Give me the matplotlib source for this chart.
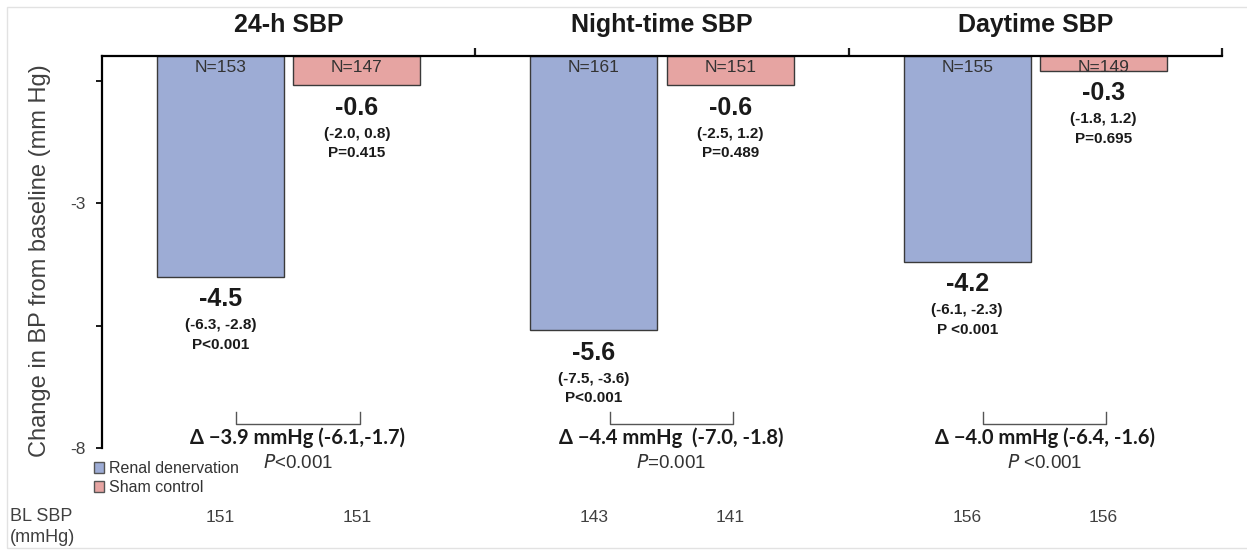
import numpy as np
import matplotlib.pyplot as plt
from matplotlib.patches import Patch, Rectangle
from matplotlib import transforms

plt.rcParams['font.family'] = ['Liberation Sans', 'DejaVu Sans']

# change in SBP from baseline, per measurement window
groups = ["24-h SBP", "Night-time SBP", "Daytime SBP"]
rdn_change = [-4.5, -5.6, -4.2]
sham_change = [-0.6, -0.6, -0.3]
rdn_n = [153, 161, 155]
sham_n = [147, 151, 149]
rdn_ci = ["(-6.3, -2.8)", "(-7.5, -3.6)", "(-6.1, -2.3)"]
sham_ci = ["(-2.0, 0.8)", "(-2.5, 1.2)", "(-1.8, 1.2)"]
rdn_p = ["P<0.001", "P<0.001", "P <0.001"]
sham_p = ["P=0.415", "P=0.489", "P=0.695"]
diff_text = ["\u0394 \u22123.9 mmHg (-6.1,-1.7)",
             "\u0394 \u22124.4 mmHg  (-7.0, -1.8)",
             "\u0394 \u22124.0 mmHg (-6.4, -1.6)"]
diff_p = ["<0.001", "=0.001", " <0.001"]
rdn_bl = [151, 143, 156]
sham_bl = [151, 141, 156]

rdn_color = "#9dacd5"
sham_color = "#e6a4a2"
edge = "#3a3a3a"
ink = "#1a1a1a"

fig = plt.figure(figsize=(12.47, 5.5), dpi=100)
ax = fig.add_axes([102 / 1247, 102 / 550, 1120 / 1247, 392 / 550])

# light frame around the whole slide
fig.patches.append(Rectangle((7 / 1247, 2 / 550), 1.0, 541 / 550, transform=fig.transFigure,
                             fill=False, edgecolor="#e2e2e2", linewidth=1))

idx = np.arange(len(groups))
w = 0.34
x_rdn = idx + 0.3175
x_sham = idx + 0.6825

ax.bar(x_rdn, rdn_change, width=w, color=rdn_color, edgecolor=edge, linewidth=1)
ax.bar(x_sham, sham_change, width=w, color=sham_color, edgecolor=edge, linewidth=1)

ax.set_xlim(0, 3)
ax.set_ylim(-8, 0)

# axis: left spine + category axis along the top (at zero)
ax.spines['bottom'].set_visible(False)
ax.spines['right'].set_visible(False)
ax.spines['left'].set_linewidth(1.6)
ax.spines['top'].set_linewidth(1.6)
ax.xaxis.tick_top()
ax.set_xticks([1, 2, 3])
ax.set_xticklabels([])
ax.tick_params(axis='x', direction='out', length=6, width=1.6, color=ink)
ax.set_yticks([-8, -5.5, -3, -0.5])
ax.set_yticklabels(["-8", "", "-3", ""])
ax.tick_params(axis='y', direction='out', length=4, width=1.4, color=ink,
               labelsize=12.5, labelcolor="#404040", pad=8)

fig.text(40 / 1247, (550 - 261) / 550, "Change in BP from baseline (mm Hg)",
         rotation=90, ha='center', va='center', fontsize=17, color="#404040")

top = transforms.blended_transform_factory(ax.transData, fig.transFigure)
for i, g in enumerate(groups):
    ax.text(i + 0.5, (550 - 25) / 550, g, transform=top, ha='center', va='center',
            fontsize=18, fontweight='bold', color=ink)


def bar_labels(xs, vals, ns, cis, ps):
    for x, v, n, ci, p in zip(xs, vals, ns, cis, ps):
        ax.annotate(f"N={n}", (x, 0), xytext=(0, -8), textcoords='offset points',
                    ha='center', va='center', fontsize=12.5, color="#333333")
        ax.annotate(f"{v:.1f}", (x, v), xytext=(0, -16), textcoords='offset points',
                    ha='center', va='center', fontsize=18, fontweight='bold', color=ink)
        ax.annotate(ci, (x, v), xytext=(0, -35), textcoords='offset points',
                    ha='center', va='center', fontsize=11, fontweight='bold', color=ink)
        ax.annotate(p, (x, v), xytext=(0, -49), textcoords='offset points',
                    ha='center', va='center', fontsize=11, fontweight='bold', color=ink)


bar_labels(x_rdn, rdn_change, rdn_n, rdn_ci, rdn_p)
bar_labels(x_sham, sham_change, sham_n, sham_ci, sham_p)

# between-group difference brackets
for i in idx:
    x0, x1 = i + 0.36, i + 0.69
    ax.plot([x0, x0, x1, x1], [-7.27, -7.5, -7.5, -7.27], color="#555555",
            linewidth=1, clip_on=False)
    xc = (x0 + x1) / 2
    ax.text(xc, -7.8, diff_text[i], ha='center', va='center', fontsize=14.5,
            fontweight='bold', color=ink, family=['Lato', 'DejaVu Sans'], clip_on=False)
    ax.text(xc, -8.3, r"$\it{P}$" + diff_p[i], ha='center', va='center', fontsize=13.5,
            color="#333333", clip_on=False)

# baseline SBP row
row_y = (550 - 517) / 550
for xs, bl in ((x_rdn, rdn_bl), (x_sham, sham_bl)):
    for x, b in zip(xs, bl):
        ax.text(x, row_y, str(b), transform=top, ha='center', va='center',
                fontsize=12.5, color="#404040")
fig.text(10 / 1247, (550 - 527) / 550, "BL SBP\n(mmHg)", ha='left', va='center',
         fontsize=13, color="#404040", linespacing=1.3)

handles = [Patch(facecolor=rdn_color, edgecolor="#555555", label="Renal denervation"),
           Patch(facecolor=sham_color, edgecolor="#555555", label="Sham control")]
fig.legend(handles=handles, loc='upper left', bbox_to_anchor=(94 / 1247, (550 - 461) / 550),
           frameon=False, fontsize=11.5, handlelength=0.65, handleheight=0.65,
           handletextpad=0.3, labelspacing=0.25, borderpad=0, borderaxespad=0,
           labelcolor="#333333")

fig.savefig("out.png", dpi=100)
